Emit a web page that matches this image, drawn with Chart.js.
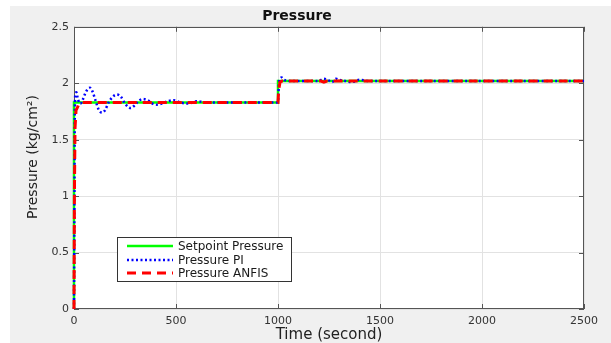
<!DOCTYPE html>
<html>
<head>
<meta charset="utf-8">
<script src="https://cdn.jsdelivr.net/npm/chart.js@4.4.1/dist/chart.umd.min.js"></script>
<style>
  html, body { margin: 0; padding: 0; background: #ffffff; }
  #wrap { position: relative; width: 611px; height: 343px; }
  canvas { display: block; }
</style>
</head>
<body>
<div id="wrap"><canvas id="c" width="611" height="343"></canvas></div>
<script>
// ---- Data ----
const chartTitle = 'Pressure';
const xTitle = 'Time (second)';
const yTitle = 'Pressure (kg/cm\u00B2)';
const seriesLabels = ['Setpoint Pressure', 'Pressure PI', 'Pressure ANFIS'];

const setpointTime = [0, 0, 1000, 1000, 2500];
const setpointValue = [0, 1.83, 1.83, 2.02, 2.02];

const piTime = [0, 2, 4, 7, 12, 18, 25, 32, 42, 55, 68, 78, 90, 105, 120, 137, 152, 170, 190, 211,
  230, 250, 265, 278, 295, 315, 338, 360, 385, 406, 430, 460, 490, 520, 560, 600, 650, 700, 800, 1000,
  1002, 1005, 1010, 1018, 1030, 1060, 1100, 1150, 1200, 1225, 1245, 1265, 1285, 1300, 1330, 1360, 1400, 1450, 1500, 2500];
const piValue = [0, 0.9, 1.75, 1.9, 1.92, 1.87, 1.83, 1.82, 1.85, 1.91, 1.95, 1.96, 1.93, 1.85, 1.77, 1.74, 1.76, 1.83, 1.88, 1.90,
  1.88, 1.82, 1.79, 1.78, 1.80, 1.84, 1.86, 1.85, 1.82, 1.81, 1.82, 1.84, 1.85, 1.83, 1.82, 1.84, 1.83, 1.83, 1.83, 1.83,
  1.90, 2.00, 2.04, 2.05, 2.03, 2.02, 2.02, 2.02, 2.02, 2.04, 2.03, 2.01, 2.04, 2.03, 2.02, 2.01, 2.03, 2.02, 2.02, 2.02];

const anfisTime = [0, 2, 5, 10, 18, 25, 40, 1000, 1003, 1006, 1010, 1020, 1210, 1225, 1240, 2500];
const anfisValue = [0, 1.0, 1.6, 1.76, 1.79, 1.82, 1.83, 1.83, 1.93, 1.97, 2.01, 2.02, 2.02, 2.01, 2.02, 2.02];

const xTicks = [0, 500, 1000, 1500, 2000, 2500];
const yTicks = [0, 0.5, 1, 1.5, 2, 2.5];

function pts(t, v) { return t.map((x, i) => ({ x: x, y: v[i] })); }

const FONT = "'DejaVu Sans', sans-serif";
const AXCOL = '#555555';

const figurePlugin = {
  id: 'figure',
  beforeDraw(chart) {
    const { ctx, chartArea: a } = chart;
    ctx.save();
    ctx.fillStyle = '#ffffff';
    ctx.fillRect(0, 0, chart.width, chart.height);
    ctx.fillStyle = '#f0f0f0';
    ctx.fillRect(10, 6, chart.width - 10, chart.height - 6);
    ctx.fillStyle = '#ffffff';
    ctx.fillRect(a.left, a.top, a.right - a.left, a.bottom - a.top);
    ctx.restore();
  },
  beforeDatasetsDraw(chart) {
    const { ctx, chartArea: a, scales } = chart;
    ctx.save();
    ctx.strokeStyle = AXCOL;
    ctx.lineWidth = 1;
    ctx.strokeRect(Math.round(a.left) + 0.5, Math.round(a.top) + 0.5, Math.round(a.right - a.left) - 1, Math.round(a.bottom - a.top) - 1);
    const L = 5;
    ctx.beginPath();
    xTicks.forEach(v => {
      const x = Math.round(scales.x.getPixelForValue(v)) + 0.5;
      ctx.moveTo(x, a.bottom); ctx.lineTo(x, a.bottom - L);
      ctx.moveTo(x, a.top); ctx.lineTo(x, a.top + L);
    });
    yTicks.forEach(v => {
      const y = Math.round(scales.y.getPixelForValue(v)) + 0.5;
      ctx.moveTo(a.left, y); ctx.lineTo(a.left + L, y);
      ctx.moveTo(a.right, y); ctx.lineTo(a.right - L, y);
    });
    ctx.stroke();
    // y-axis title (placed as in the reference)
    ctx.translate(33, 157);
    ctx.rotate(-Math.PI / 2);
    ctx.font = '14px ' + FONT;
    ctx.fillStyle = '#222222';
    ctx.textAlign = 'center';
    ctx.textBaseline = 'middle';
    ctx.fillText(yTitle, 0, 0);
    ctx.restore();
  },
  afterDatasetsDraw(chart) {
    const { ctx } = chart;
    ctx.save();
    const bx = 117.5, by = 237.5, bw = 174, bh = 44;
    ctx.fillStyle = '#ffffff';
    ctx.fillRect(bx, by, bw, bh);
    ctx.strokeStyle = '#333333';
    ctx.lineWidth = 1;
    ctx.strokeRect(bx, by, bw, bh);
    const rows = [246, 260, 273];
    ctx.font = '12px ' + FONT;
    ctx.textBaseline = 'middle';
    ctx.textAlign = 'left';
    chart.data.datasets.slice().sort((p, q) => p.legendIndex - q.legendIndex).forEach((ds, i) => {
      const y = rows[i];
      ctx.beginPath();
      ctx.strokeStyle = ds.borderColor;
      ctx.lineWidth = ds.borderWidth;
      ctx.setLineDash(ds.borderDash || []);
      ctx.moveTo(127, y); ctx.lineTo(173, y);
      ctx.stroke();
      ctx.setLineDash([]);
      ctx.fillStyle = '#1a1a1a';
      ctx.fillText(ds.label, 178, y + 0.5);
    });
    ctx.restore();
  }
};

new Chart(document.getElementById('c'), {
  type: 'line',
  data: {
    datasets: [
      { label: seriesLabels[0], legendIndex: 0, data: pts(setpointTime, setpointValue), borderColor: '#00ff00', borderWidth: 2.5, pointRadius: 0, tension: 0, order: 3, fill: false, clip: 3 },
      { label: seriesLabels[1], legendIndex: 1, data: pts(piTime, piValue), borderColor: '#0000ff', borderWidth: 2.5, borderDash: [2, 2.5], pointRadius: 0, cubicInterpolationMode: 'monotone', order: 2, fill: false, clip: 3 },
      { label: seriesLabels[2], legendIndex: 2, data: pts(anfisTime, anfisValue), borderColor: '#ff0000', borderWidth: 3, borderDash: [9, 6], pointRadius: 0, tension: 0, order: 1, fill: false, clip: 3 }
    ]
  },
  options: {
    responsive: false,
    animation: false,
    layout: { padding: { left: 10, top: 6, right: 27, bottom: 0 } },
    plugins: {
      legend: { display: false },
      tooltip: { enabled: false },
      title: {
        display: true, text: chartTitle, color: '#111111',
        font: { family: FONT, size: 14, weight: 'bold', lineHeight: 1.2 },
        padding: { top: 2, bottom: 2 }
      }
    },
    scales: {
      x: {
        type: 'linear', min: 0, max: 2500,
        afterFit(s) { s.height = 34; },
        afterBuildTicks(s) { s.ticks = xTicks.map(v => ({ value: v })); },
        ticks: { color: '#333333', font: { family: FONT, size: 11 }, padding: 6, maxRotation: 0, autoSkip: false, callback: v => String(v) },
        grid: { color: '#e2e2e2', lineWidth: 1, drawTicks: false },
        border: { display: false },
        title: { display: true, text: xTitle, color: '#222222', font: { family: FONT, size: 15, lineHeight: 1 }, padding: { top: 0, bottom: 0 } }
      },
      y: {
        type: 'linear', min: 0, max: 2.5,
        afterFit(s) { s.width = 64; },
        afterBuildTicks(s) { s.ticks = yTicks.map(v => ({ value: v })); },
        ticks: { color: '#333333', font: { family: FONT, size: 11 }, padding: 5, autoSkip: false, callback: v => String(v) },
        grid: { color: '#e2e2e2', lineWidth: 1, drawTicks: false },
        border: { display: false },
        title: { display: false }
      }
    }
  },
  plugins: [figurePlugin]
});
</script>
</body>
</html>
